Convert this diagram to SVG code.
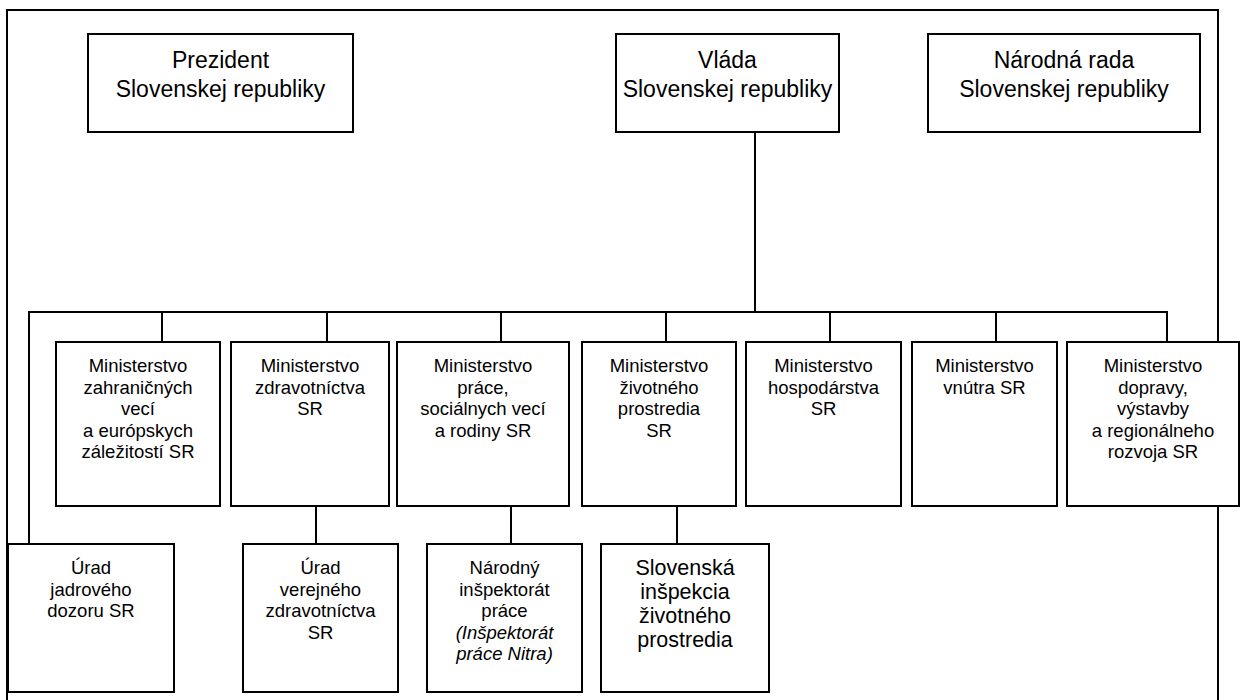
<svg xmlns="http://www.w3.org/2000/svg" width="1241" height="700" viewBox="0 0 1241 700">
<style>
.box{fill:#fff;stroke:#000;stroke-width:2}
.ln{fill:none;stroke:#000;stroke-width:2}
text{font-family:"Liberation Sans",Arial,sans-serif;fill:#000;text-anchor:middle}
.t{font-size:23px}
.s{font-size:18.5px}
.m{font-size:21.5px}
.i{font-style:italic}
</style>
<path class="ln" d="M7,700 V10 H1218 V700"/>
<g id="connectors">
<path class="ln" d="M755,132 V312"/>
<path class="ln" d="M29,544 V312 H1167 V342"/>
<path class="ln" d="M162,312 V342 M327,312 V342 M501,312 V342 M666,312 V342 M830,312 V342 M996,312 V342"/>
<path class="ln" d="M316,506 V544 M511,506 V544 M677,506 V544"/>
</g>
<g id="prezident">
<rect class="box" x="88" y="34" width="265" height="98"/>
<text class="t" x="220.5" y="68">Prezident</text>
<text class="t" x="220.5" y="97">Slovenskej republiky</text>
</g>
<g id="vlada">
<rect class="box" x="616" y="34" width="223" height="98"/>
<text class="t" x="727.5" y="68">Vláda</text>
<text class="t" x="727.5" y="97">Slovenskej republiky</text>
</g>
<g id="narodna-rada">
<rect class="box" x="928" y="34" width="272" height="98"/>
<text class="t" x="1064" y="68">Národná rada</text>
<text class="t" x="1064" y="97">Slovenskej republiky</text>
</g>
<g id="m-zahranicnych">
<rect class="box" x="56" y="342" width="164" height="164"/>
<text class="s" x="138" y="372">Ministerstvo</text>
<text class="s" x="138" y="393.5">zahraničných</text>
<text class="s" x="138" y="415">vecí</text>
<text class="s" x="138" y="436.5">a európskych</text>
<text class="s" x="138" y="458">záležitostí SR</text>
</g>
<g id="m-zdravotnictva">
<rect class="box" x="231" y="342" width="158" height="164"/>
<text class="s" x="310" y="372">Ministerstvo</text>
<text class="s" x="310" y="393.5">zdravotníctva</text>
<text class="s" x="310" y="415">SR</text>
</g>
<g id="m-prace">
<rect class="box" x="397" y="342" width="172" height="164"/>
<text class="s" x="483" y="372">Ministerstvo</text>
<text class="s" x="483" y="393.5">práce,</text>
<text class="s" x="483" y="415">sociálnych vecí</text>
<text class="s" x="483" y="436.5">a rodiny SR</text>
</g>
<g id="m-zivotneho">
<rect class="box" x="582" y="342" width="154" height="164"/>
<text class="s" x="659" y="372">Ministerstvo</text>
<text class="s" x="659" y="393.5">životného</text>
<text class="s" x="659" y="415">prostredia</text>
<text class="s" x="659" y="436.5">SR</text>
</g>
<g id="m-hospodarstva">
<rect class="box" x="746" y="342" width="155" height="164"/>
<text class="s" x="823.5" y="372">Ministerstvo</text>
<text class="s" x="823.5" y="393.5">hospodárstva</text>
<text class="s" x="823.5" y="415">SR</text>
</g>
<g id="m-vnutra">
<rect class="box" x="912" y="342" width="145" height="164"/>
<text class="s" x="984.5" y="372">Ministerstvo</text>
<text class="s" x="984.5" y="393.5">vnútra SR</text>
</g>
<g id="m-dopravy">
<rect class="box" x="1067" y="342" width="172" height="164"/>
<text class="s" x="1153" y="372">Ministerstvo</text>
<text class="s" x="1153" y="393.5">dopravy,</text>
<text class="s" x="1153" y="415">výstavby</text>
<text class="s" x="1153" y="436.5">a regionálneho</text>
<text class="s" x="1153" y="458">rozvoja SR</text>
</g>
<g id="urad-jadroveho">
<rect class="box" x="8" y="544" width="166" height="148"/>
<text class="s" x="91" y="574">Úrad</text>
<text class="s" x="91" y="595.5">jadrového</text>
<text class="s" x="91" y="617">dozoru SR</text>
</g>
<g id="urad-verejneho">
<rect class="box" x="243" y="544" width="155" height="148"/>
<text class="s" x="320.5" y="574">Úrad</text>
<text class="s" x="320.5" y="595.5">verejného</text>
<text class="s" x="320.5" y="617">zdravotníctva</text>
<text class="s" x="320.5" y="638.5">SR</text>
</g>
<g id="narodny-inspektorat">
<rect class="box" x="427" y="544" width="155" height="148"/>
<text class="s" x="504.5" y="574">Národný</text>
<text class="s" x="504.5" y="595.5">inšpektorát</text>
<text class="s" x="504.5" y="617">práce</text>
<text class="s i" x="504.5" y="638.5">(Inšpektorát</text>
<text class="s i" x="504.5" y="660">práce Nitra)</text>
</g>
<g id="slovenska-inspekcia">
<rect class="box" x="601" y="544" width="168" height="148"/>
<text class="m" x="685" y="575">Slovenská</text>
<text class="m" x="685" y="599">inšpekcia</text>
<text class="m" x="685" y="623">životného</text>
<text class="m" x="685" y="647">prostredia</text>
</g>
</svg>
